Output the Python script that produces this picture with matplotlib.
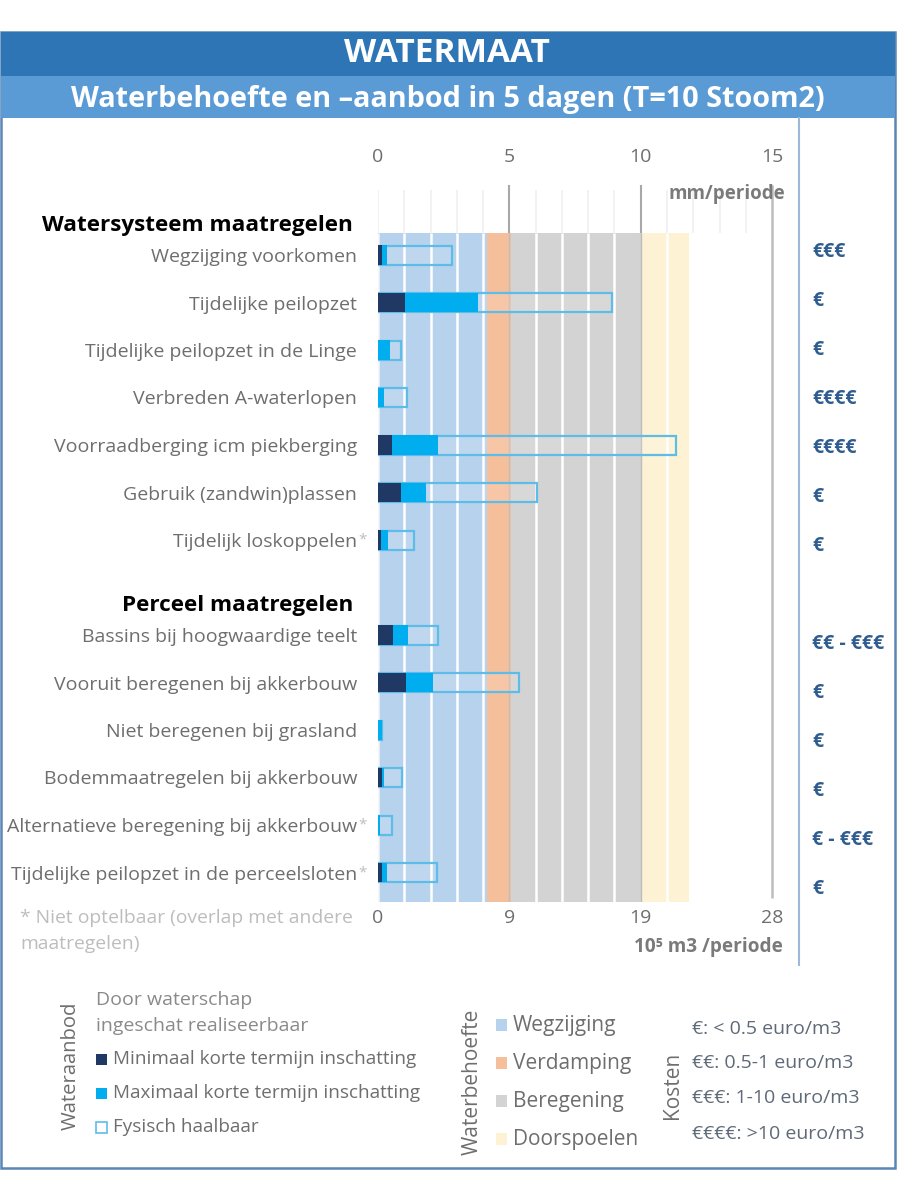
import matplotlib
matplotlib.use("Agg")
import matplotlib.pyplot as plt
from matplotlib.patches import Rectangle

W, H = 900, 1199
FONT = "Open Sans"
plt.rcParams["font.family"] = [FONT, "DejaVu Sans"]

# ---------- data ----------
measures = ["Wegzijging voorkomen", "Tijdelijke peilopzet", "Tijdelijke peilopzet in de Linge",
            "Verbreden A-waterlopen", "Voorraadberging icm piekberging", "Gebruik (zandwin)plassen",
            "Tijdelijk loskoppelen", "", "Bassins bij hoogwaardige teelt",
            "Vooruit beregenen bij akkerbouw", "Niet beregenen bij grasland",
            "Bodemmaatregelen bij akkerbouw", "Alternatieve beregening bij akkerbouw",
            "Tijdelijke peilopzet in de perceelsloten"]
niet_optelbaar = ["Tijdelijk loskoppelen", "Alternatieve beregening bij akkerbouw",
                  "Tijdelijke peilopzet in de perceelsloten"]
minimaal = [0.15, 1.03, 0.0, 0.0, 0.52, 0.87, 0.1, 0, 0.58, 1.07, 0.0, 0.15, 0.0, 0.15]
maximaal = [0.36, 3.82, 0.46, 0.23, 2.30, 1.83, 0.39, 0, 1.15, 2.10, 0.15, 0.23, 0.08, 0.33]
fysisch = [2.82, 8.90, 0.88, 1.09, 11.33, 6.06, 1.38, 0, 2.30, 5.38, 0.15, 0.90, 0.53, 2.23]
kosten = ["€€€", "€", "€", "€€€€", "€€€€", "€", "€", "", "€€ - €€€", "€", "€", "€", "€ - €€€", "€"]
behoefte_namen = ["Wegzijging", "Verdamping", "Beregening", "Doorspoelen"]
behoefte_tot = [4.15, 5.05, 10.05, 11.85]
top_ticks = [0, 5, 10, 15]
bottom_labels = ["0", "9", "19", "28"]
kosten_legenda = ["€: < 0.5 euro/m3", "€€: 0.5-1 euro/m3", "€€€: 1-10 euro/m3", "€€€€: >10 euro/m3"]

# ---------- colours ----------
C_BAND = ["#B7D2EC", "#F5BF9B", "#D3D3D3", "#FDF2D3"]
C_MIN, C_MAX, C_FYS = "#1F3864", "#00AEEF", "#5DBDE8"
C_TXT, C_COST = "#6E6E6E", "#2F5D8F"

fig = plt.figure(figsize=(W / 100, H / 100), dpi=100, facecolor="white")

# full-figure layer for frame, header and legend (pixel coordinates)
bg = fig.add_axes([0, 0, 1, 1], zorder=0)
bg.set_xlim(0, W); bg.set_ylim(H, 0); bg.axis("off")
bg.add_patch(Rectangle((1, 32), 894, 1136, fc="white", ec="#5B85B5", lw=1.8))
bg.add_patch(Rectangle((1, 32), 894, 44, fc="#2E75B6", ec="none"))
bg.add_patch(Rectangle((1, 76), 894, 42, fc="#5B9BD5", ec="none"))
bg.text(447, 54, "WATERMAAT", color="white", fontsize=24, fontweight="bold", ha="center", va="center")
bg.text(448, 99, "Waterbehoefte en –aanbod in 5 dagen (T=10 Stoom2)", color="white", fontsize=20.8,
        fontweight="bold", ha="center", va="center")
bg.plot([799, 799], [118, 965], color="#9DB8D8", lw=1.5)

# main chart axes
PX_L, PX_R, PX_T, PX_B = 378, 799, 183, 902
PX_PER_X = 26.27
ROW0, ROW_H = 255, 47.5
ax = fig.add_axes([PX_L / W, 1 - PX_B / H, (PX_R - PX_L) / W, (PX_B - PX_T) / H], zorder=2)
ax.patch.set_alpha(0)
ax.set_xlim(0, (PX_R - PX_L) / PX_PER_X)
ax.set_ylim((PX_B - ROW0) / ROW_H, (PX_T - ROW0) / ROW_H)
for s in ax.spines.values():
    s.set_visible(False)

# demand bands
band_top, band_bot = (233 - ROW0) / ROW_H, (902 - ROW0) / ROW_H
left = 0
for name, end, col in zip(behoefte_namen, behoefte_tot, C_BAND):
    ax.barh((band_top + band_bot) / 2, end - left, left=left, height=band_bot - band_top,
            color=col, lw=0, zorder=1, label=name)
    left = end

# grid
for v in range(0, 16):
    if v in (5, 10, 15):
        continue
    ax.vlines(v, (190 - ROW0) / ROW_H, band_top, color="#F0F0F0", lw=1.2, zorder=1.5)
    ax.vlines(v, band_top, band_bot, color="white" if v else "#F3F7FB", lw=1.8, zorder=1.5)
ax.vlines([5, 10], (185 - ROW0) / ROW_H, band_top, color="#A8A8A8", lw=1.5, zorder=1.5)
ax.vlines([5, 10], band_top, band_bot, color="#BDBDBD", lw=1.0, zorder=1.5)
ax.vlines(15, (185 - ROW0) / ROW_H, (898 - ROW0) / ROW_H, color="#BDBDBD", lw=1.8, zorder=1.5)

# supply bars
ys = list(range(len(measures)))
bar_h = 19 / ROW_H
for y, lo, hi, tot in zip(ys, minimaal, maximaal, fysisch):
    if tot == 0:
        continue
    ax.barh(y, tot, height=bar_h, fc=(1, 1, 1, 0.12), ec=C_FYS, lw=1.6, zorder=3)
    ax.barh(y, hi, height=bar_h + 0.02, color=C_MAX, lw=0, zorder=4)
    if lo:
        ax.barh(y, lo, height=bar_h + 0.02, color=C_MIN, lw=0, zorder=5)

# axes labelling: twin first, because twiny() moves the host's ticks to the bottom
ax2 = ax.twiny()
ax2.set_xlim(ax.get_xlim())
ax2.patch.set_alpha(0)
for s in ax2.spines.values():
    s.set_visible(False)
ax2.set_xticks(top_ticks, [str(t) for t in top_ticks], color=C_TXT, fontsize=14)
ax2.tick_params(axis="x", length=0, pad=12)
ax.set_xticks(top_ticks, bottom_labels, color=C_TXT, fontsize=14)
ax.tick_params(axis="x", length=0, pad=5)
ax.set_yticks(ys, measures, color=C_TXT, fontsize=14)
ax.tick_params(axis="y", length=0, pad=15)

# light asterisk hanging behind the footnoted labels
for y, m in zip(ys, measures):
    if m in niet_optelbaar:
        ax.text((358 - PX_L) / PX_PER_X, y, "*", color="#BDBDBD", fontsize=11, ha="left", va="center", clip_on=False)

# cost column
for i, k in enumerate(kosten):
    ax.text((812 - PX_L) / PX_PER_X, (252 + 49 * i - ROW0) / ROW_H, k, color=C_COST, fontsize=14,
            fontweight="bold", ha="left", va="center", clip_on=False, zorder=6)

# free text
bg.text(353, 225, "Watersysteem maatregelen", color="black", fontsize=16.2, fontweight="bold", ha="right", va="center")
bg.text(353, 605, "Perceel maatregelen", color="black", fontsize=16.2, fontweight="bold", ha="right", va="center")
fig.text(785 / W, 1 - 194 / H, "mm/periode", color="#7A7A7A", fontsize=13.5, fontweight="bold", ha="right", va="center", zorder=5)
fig.text(783 / W, 1 - 947 / H, "10⁵ m3 /periode", color="#7A7A7A", fontsize=13.7, fontweight="bold", ha="right", va="center", zorder=5)
bg.text(20, 918, "* Niet optelbaar (overlap met andere", color="#BDBDBD", fontsize=13.9, ha="left", va="center")
bg.text(20, 944, "maatregelen)", color="#BDBDBD", fontsize=13.9, ha="left", va="center")

# legend left
bg.text(71, 1066, "Wateraanbod", color="#6E6E6E", fontsize=14.6, rotation=90, ha="center", va="center")
bg.text(96, 1000, "Door waterschap", color="#8A8A8A", fontsize=14, ha="left", va="center")
bg.text(96, 1026, "ingeschat realiseerbaar", color="#8A8A8A", fontsize=14, ha="left", va="center")
for yy, txt, fc, ec in [(1059, "Minimaal korte termijn inschatting", C_MIN, "none"),
                        (1093, "Maximaal korte termijn inschatting", C_MAX, "none"),
                        (1127, "Fysisch haalbaar", "white", C_FYS)]:
    bg.add_patch(Rectangle((96, yy - 5), 11, 11, fc=fc, ec=ec, lw=1.2))
    bg.text(113, yy, txt, color="#6E6E6E", fontsize=13.6, ha="left", va="center")

# legend demand
bg.text(472, 1082, "Waterbehoefte", color="#6E6E6E", fontsize=15, rotation=90, ha="center", va="center")
for yy, txt, col in zip([1025, 1063, 1101, 1139], behoefte_namen, C_BAND):
    bg.add_patch(Rectangle((496, yy - 6), 11, 12, fc=col, ec="none"))
    bg.text(513, yy, txt, color="#6E6E6E", fontsize=15, ha="left", va="center")

# legend costs
bg.text(673, 1085, "Kosten", color="#6E6E6E", fontsize=15, rotation=90, ha="center", va="center")
for yy, txt in zip([1029, 1063, 1098, 1134], kosten_legenda):
    bg.text(692, yy, txt, color="#5E6A78", fontsize=14, ha="left", va="center")

fig.savefig("out.png", dpi=100)
